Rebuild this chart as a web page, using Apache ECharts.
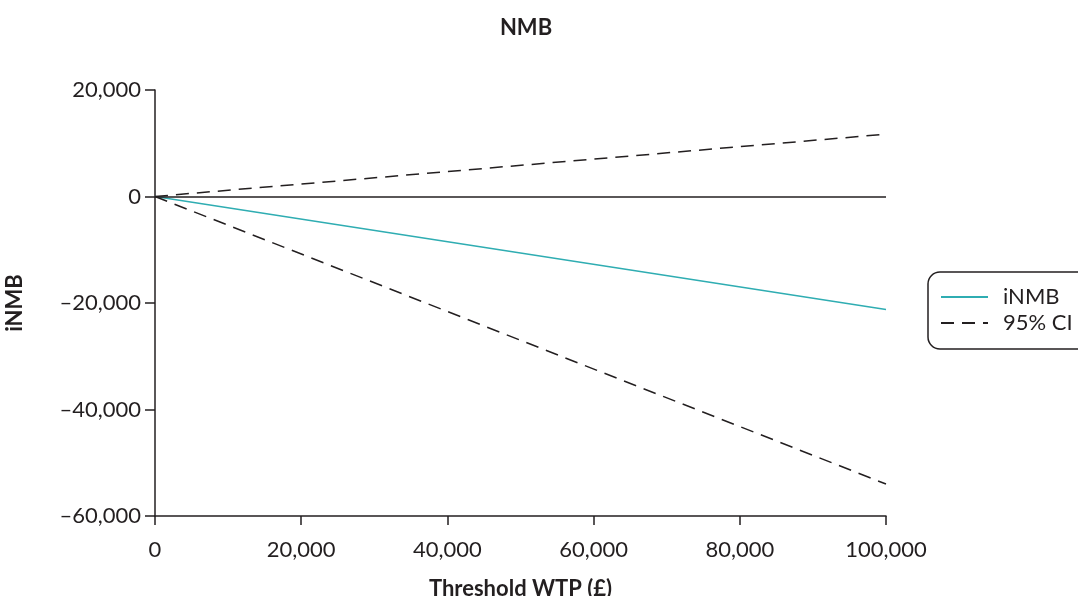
<!DOCTYPE html>
<html>
<head>
<meta charset="utf-8">
<script src="https://cdn.jsdelivr.net/npm/echarts@6/dist/echarts.min.js"></script>
<style>html,body{margin:0;padding:0;background:#fff;}#c{width:1078px;height:596px;}</style>
</head>
<body>
<div id="c"></div>
<script>
const wtp = [0, 100000];
const inmb = [0, -21200];
const ciUpper = [0, 11700];
const ciLower = [0, -54000];
const xTicks = [0, 20000, 40000, 60000, 80000, 100000];
const yTicks = [-60000, -40000, -20000, 0, 20000];

const fmt = v => (v < 0 ? '\u2013' : '') + Math.abs(v).toLocaleString('en-US');
const pairs = ys => wtp.map((x, i) => [x, ys[i]]);
const font = 'Lato';
const ink = '#231f20';

const chart = echarts.init(document.getElementById('c'));
chart.setOption({
  animation: false,
  textStyle: { fontFamily: font },
  title: {
    text: 'NMB', left: 521, top: 12, textAlign: 'center',
    textStyle: { fontFamily: font, fontWeight: 'bold', fontSize: 22, color: ink }
  },
  grid: { left: 155, right: 192, top: 90, bottom: 80, outerBoundsMode: 'none', containLabel: false },
  legend: {
    orient: 'vertical', left: 928, top: 272,
    padding: [14, 80, 15, 12], itemGap: 4, itemWidth: 47, itemHeight: 22,
    borderColor: ink, borderWidth: 1.5, borderRadius: 12,
    data: ['iNMB', '95% CI'],
    itemStyle: { opacity: 0 },
    formatter: '{t|{name}}',
    textStyle: { fontFamily: font, fontSize: 22, color: ink,
      rich: { t: { fontFamily: font, fontSize: 22, color: ink, padding: [0, 0, 0, 10] } } }
  },
  xAxis: {
    type: 'value', min: 0, max: 100000, interval: 20000,
    name: 'Threshold WTP (£)', nameLocation: 'middle', nameGap: 62,
    nameTextStyle: { fontFamily: font, fontWeight: 'bold', fontSize: 22, color: ink },
    axisLine: { show: true, onZero: false, lineStyle: { color: ink, width: 1.5 } },
    axisTick: { show: true, length: 9, lineStyle: { color: ink, width: 1.5 } },
    axisLabel: { fontFamily: font, fontSize: 22, color: ink, margin: 23, formatter: fmt,
      customValues: xTicks },
    splitLine: { show: false }
  },
  yAxis: {
    type: 'value', min: -60000, max: 20000, interval: 20000,
    name: 'iNMB', nameLocation: 'middle', nameGap: 129, nameRotate: 90,
    nameTextStyle: { fontFamily: font, fontWeight: 'bold', fontSize: 22, color: ink },
    axisLine: { show: true, onZero: false, lineStyle: { color: ink, width: 1.5 } },
    axisTick: { show: true, length: 10, lineStyle: { color: ink, width: 1.5 } },
    axisLabel: { fontFamily: font, fontSize: 22, color: ink, margin: 14, formatter: fmt,
      customValues: yTicks },
    splitLine: { show: false }
  },
  series: [
    {
      name: 'iNMB', type: 'line', data: pairs(inmb), symbol: 'none',
      lineStyle: { color: '#2fadb2', width: 1.5 }, itemStyle: { color: '#2fadb2' },
      markLine: {
        silent: true, symbol: 'none', label: { show: false },
        lineStyle: { color: ink, width: 1.5, type: 'solid' },
        data: [{ yAxis: 0 }]
      },
      z: 3
    },
    {
      name: '95% CI', type: 'line', data: pairs(ciUpper), symbol: 'none',
      lineStyle: { color: ink, width: 1.5, type: [13, 8] }, itemStyle: { color: ink }
    },
    {
      name: '95% CI', type: 'line', data: pairs(ciLower), symbol: 'none',
      lineStyle: { color: ink, width: 1.5, type: [13, 8] }, itemStyle: { color: ink }
    }
  ]
});
</script>
</body>
</html>
